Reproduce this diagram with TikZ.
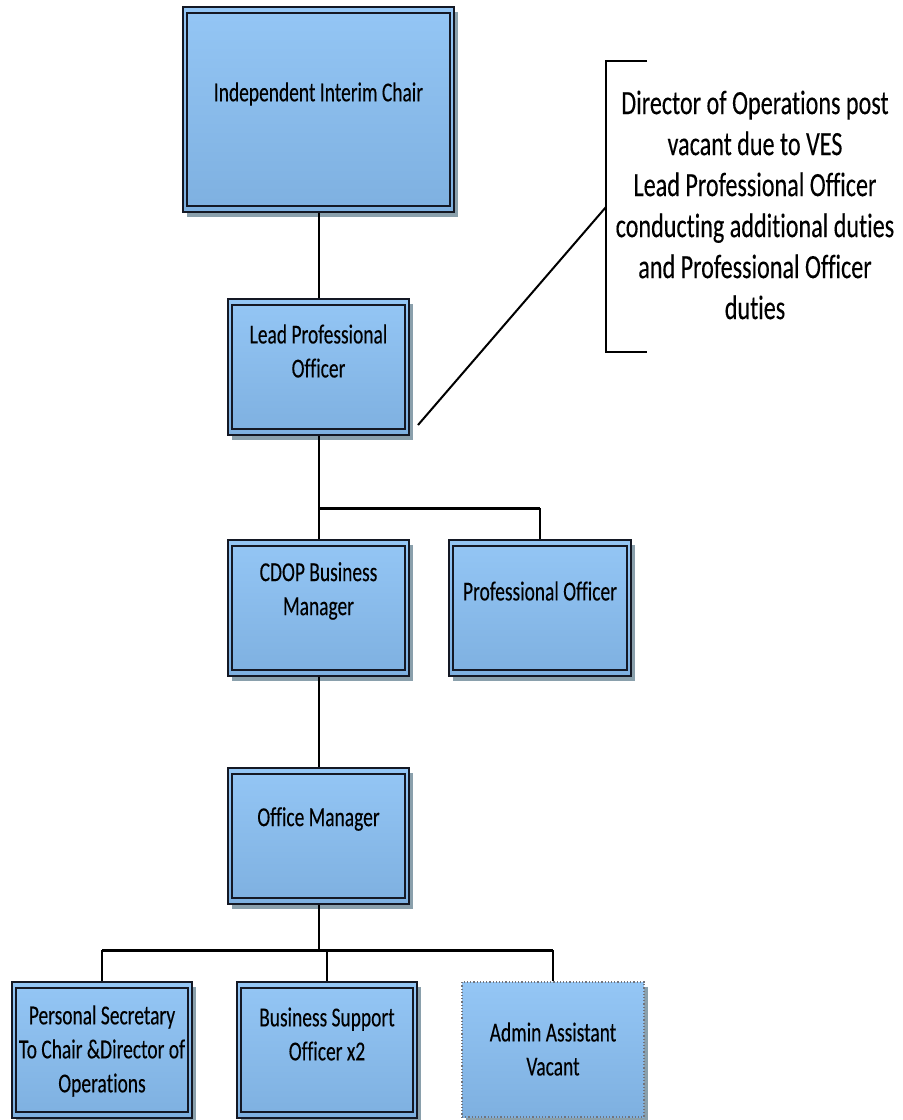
\documentclass[tikz,border=0pt]{standalone}
\usepackage{fontspec}
\setmainfont{Carlito}[FakeStretch=0.71, Ligatures=NoCommon, FakeBold=0.2]
\usetikzlibrary{shadows}
\definecolor{boxtop}{RGB}{148,198,245}
\definecolor{boxbot}{RGB}{126,176,224}
\definecolor{shad}{RGB}{138,160,172}
\definecolor{edge}{RGB}{20,24,36}
\begin{document}
\begin{tikzpicture}[x=0.5pt,y=-0.5pt,
  boxbase/.style 2 args={rectangle, top color=boxtop, bottom color=boxbot,
    minimum width={#1*0.5pt}, minimum height={#2*0.5pt}, inner sep=0pt,
    drop shadow={shadow xshift=2pt, shadow yshift=-2.5pt, fill=shad, opacity=1}},
  orgbox/.style 2 args={boxbase={#1}{#2}, draw=edge, line width=0.7pt,
    path picture={\draw[edge, line width=0.55pt]
      ([xshift=2pt,yshift=-3pt]path picture bounding box.north west) rectangle
      ([xshift=-2pt,yshift=3pt]path picture bounding box.south east);}},
  vacbox/.style 2 args={boxbase={#1}{#2}, draw=edge!60, line width=0.6pt, densely dotted},
  boxtext/.style={inner sep=0pt, align=center, font=\fontsize{13.7pt}{17pt}\selectfont},
  notetext/.style={inner sep=0pt, align=center, font=\fontsize{17pt}{20.5pt}\selectfont},
  vline/.style={draw=black, line width=1pt},
  hline/.style={draw=black, line width=1.5pt},
  brline/.style={draw=black, line width=1pt}]
\useasboundingbox (0,0) rectangle (902,1120);

% boxes
\node[orgbox={271}{205}] (chair) at (318.5,109.5) {};
\node[orgbox={181}{136}] (lead) at (318.5,367) {};
\node[orgbox={181}{136}] (cdop) at (318.5,608) {};
\node[orgbox={182}{136}] (prof) at (540,608) {};
\node[orgbox={181}{136}] (office) at (318.5,836) {};
\node[orgbox={180}{136}] (pers) at (102,1050) {};
\node[orgbox={180}{136}] (bso) at (327,1050) {};
\node[vacbox={182}{135}] (admin) at (553,1049.5) {};

% texts
\node[boxtext] (chairT) at (318.5,94) {Independent Interim Chair};
\node[boxtext] (leadT) at (318.5,351) {Lead Professional\\Officer};
\node[boxtext] (cdopT) at (318.5,591) {CDOP Business\\Manager};
\node[boxtext] (profT) at (540,591) {Professional Officer};
\node[boxtext] (officeT) at (318.5,819) {Office Manager};
\node[boxtext] (persT) at (102,1051) {Personal Secretary\\To Chair \&Director of\\Operations};
\node[boxtext] (bsoT) at (327,1034) {Business Support\\Officer x2};
\node[boxtext] (adminT) at (553,1049) {Admin Assistant\\Vacant};

% connectors
\draw[vline] (chair.south) -- (lead.north);
\coordinate (j1) at (318.5,508);
\draw[vline] (lead.south) -- (cdop.north);
\draw[hline] (j1) -- (j1 -| prof.north);
\draw[vline] (j1 -| prof.north) -- (prof.north);
\draw[vline] (cdop.south) -- (office.north);
\coordinate (j2) at (318.5,950);
\draw[vline] (office.south) -- (j2);
\draw[hline] (j2 -| pers.north) -- (j2 -| admin.north);
\draw[vline] (j2 -| pers.north) -- (pers.north);
\draw[vline] (j2 -| bso.north) -- (bso.north);
\draw[vline] (j2 -| admin.north) -- (admin.north);

% annotation
\coordinate (bTR) at (647,61);
\coordinate (bTL) at (606,61);
\coordinate (bBL) at (606,352);
\coordinate (bBR) at (647,352);
\coordinate (bMid) at (606,207);
\coordinate (tail) at (418,425);
\draw[brline] (bTR) -- (bTL) -- (bBL) -- (bBR);
\draw[brline] (tail) -- (bMid);
\node[notetext] (note) at (755,205) {Director of Operations post\\vacant due to VES\\Lead Professional Officer\\conducting additional duties\\and Professional Officer\\duties};
\end{tikzpicture}
\end{document}
